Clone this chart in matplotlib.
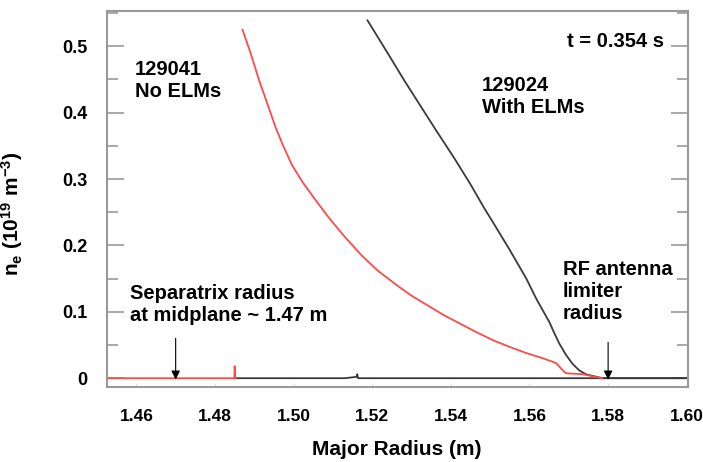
import matplotlib
matplotlib.use("Agg")
import matplotlib.pyplot as plt
from matplotlib.ticker import MultipleLocator, FuncFormatter

plt.rcParams["font.family"] = ["Liberation Sans", "DejaVu Sans"]
plt.rcParams["font.weight"] = "bold"
plt.rcParams["mathtext.fontset"] = "custom"
plt.rcParams["mathtext.rm"] = "Liberation Sans:bold"
plt.rcParams["mathtext.default"] = "regular"

# 129041 (no ELMs) - red
red_base_r = [1.450, 1.4849, 1.4850, 1.4852]
red_base_ne = [0.0, 0.0, 0.018, 0.0]
red_r = [1.4870, 1.4891, 1.4912, 1.4933, 1.4954, 1.4975, 1.4996, 1.5022,
         1.5055, 1.5088, 1.5130, 1.5173, 1.5214, 1.5256, 1.5298, 1.5340,
         1.5382, 1.5424, 1.5466, 1.5508, 1.5550, 1.5591, 1.5634, 1.5667,
         1.5692, 1.5735, 1.5785]
red_ne = [0.525, 0.489, 0.449, 0.414, 0.378, 0.348, 0.321, 0.296,
          0.269, 0.243, 0.213, 0.185, 0.162, 0.143, 0.125, 0.110,
          0.095, 0.082, 0.069, 0.057, 0.047, 0.038, 0.030, 0.023,
          0.0075, 0.006, 0.0]

# 129024 (with ELMs) - black
black_base_r = [1.4852, 1.5130, 1.5160, 1.5162, 1.5164, 1.600]
black_base_ne = [0.0, 0.0, 0.002, 0.006, 0.0, 0.0]
black_r = [1.5188, 1.5214, 1.5240, 1.5281, 1.5324, 1.5365, 1.5407, 1.5449,
           1.5483, 1.5508, 1.5550, 1.5592, 1.5617, 1.5651, 1.5663, 1.5676,
           1.5693, 1.5709, 1.5726, 1.5743, 1.5785, 1.600]
black_ne = [0.539, 0.514, 0.489, 0.449, 0.409, 0.371, 0.333, 0.293,
            0.258, 0.234, 0.193, 0.150, 0.120, 0.084, 0.068, 0.052,
            0.035, 0.022, 0.012, 0.006, 0.0, 0.0]

sep_r = 1.47
rf_r = 1.58

fig = plt.figure(figsize=(7.03, 4.62), dpi=100)
ax = fig.add_axes([0.152, 0.162, 0.826, 0.814])

red = "#ff4a4a"
dark = "#3a3a3a"
ax.plot(black_base_r, black_base_ne, color=dark, lw=1.3)
ax.plot(black_r, black_ne, color=dark, lw=1.3)
ax.plot(red_base_r, red_base_ne, color=red, lw=1.3)
ax.plot(red_r, red_ne, color=red, lw=1.3)

ax.set_xlim(1.4525, 1.6002)
ax.set_ylim(-0.0135, 0.553)

for s in ax.spines.values():
    s.set_color("#999999")
    s.set_linewidth(1.5)

ax.xaxis.set_major_locator(MultipleLocator(0.02))
ax.xaxis.set_major_formatter(FuncFormatter(lambda v, p: f"{v:.2f}"))
ax.yaxis.set_major_locator(MultipleLocator(0.1))
ax.yaxis.set_minor_locator(MultipleLocator(0.05))
ax.yaxis.set_major_formatter(FuncFormatter(lambda v, p: "0" if abs(v) < 1e-9 else f"{v:.1f}"))

ax.tick_params(axis="y", which="major", direction="in", length=12, width=1.2,
               color="#999999", right=True, pad=14, labelsize=13)
ax.tick_params(axis="y", which="minor", direction="in", length=8, width=1.2,
               color="#999999", right=True)
ax.tick_params(axis="x", which="major", direction="in", length=3, width=0.8,
               color="#dddddd", pad=16, labelsize=12.5)

ax.set_xlabel("Major Radius (m)", fontsize=15, fontweight="bold", labelpad=11)
ax.set_ylabel("n$_{e}$ (10$^{19}$ m$^{-3}$)", fontsize=15, fontweight="bold")
ax.yaxis.set_label_coords(-0.141, 0.46)

fs = 14.5
ax.text(1.4597, 0.479, "129041\nNo ELMs", fontsize=fs, va="top", ha="left")
ax.text(1.5478, 0.455, "129024\nWith ELMs", fontsize=fs, va="top", ha="left")
ax.text(1.5941, 0.522, "t = 0.354 s", fontsize=fs, va="top", ha="right")
ax.text(1.4584, 0.142, "Separatrix radius\nat midplane ~ 1.47 m", fontsize=fs,
        va="top", ha="left")
ax.text(1.5685, 0.178, "RF antenna\nlimiter\nradius", fontsize=fs, va="top", ha="left")

arrow = dict(arrowstyle="-|>", color="black", lw=0.8, mutation_scale=13,
             shrinkA=0, shrinkB=0)
ax.annotate("", xy=(sep_r, -0.002), xytext=(sep_r, 0.060), arrowprops=arrow)
ax.annotate("", xy=(rf_r, -0.002), xytext=(rf_r, 0.054), arrowprops=arrow)

fig.savefig("out.png", dpi=100)
